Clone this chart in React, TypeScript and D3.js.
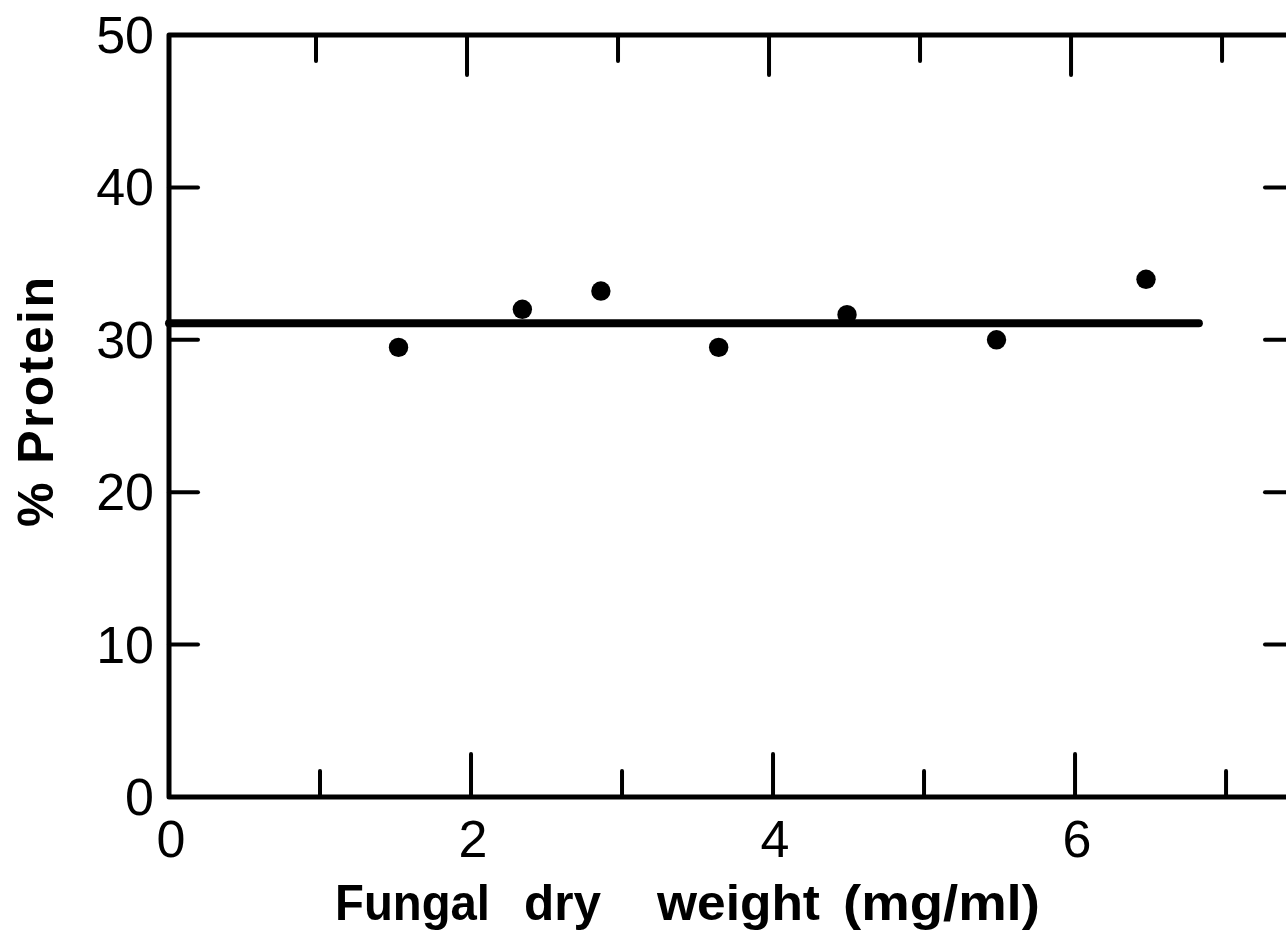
import React, { useLayoutEffect, useRef, useState } from "react";
import * as d3 from "d3";

const dryWeight = [1.52, 2.34, 2.86, 3.64, 4.49, 5.48, 6.47];
const proteinPct = [29.5, 32.0, 33.2, 29.5, 31.65, 30.0, 33.97];
const fitLine = [
  { x: 0, y: 31.08 },
  { x: 6.82, y: 31.08 },
];
const xMajorTicks = [2, 4, 6];
const xMinorTicks = [1, 3, 5, 7];
const xTickLabels = [0, 2, 4, 6];
const yTicks = [10, 20, 30, 40];
const yTickLabels = [0, 10, 20, 30, 40, 50];
const xTitleWords = ["Fungal", "dry", "weight", "(mg/ml)"];
const xTitleSpans = [
  [335, 490],
  [524, 601],
  [657, 820],
  [843, 1040],
];

const W = 1286;
const H = 935;
const FONT = "'Liberation Sans', Arial, sans-serif";

export default function App() {
  const x = d3.scaleLinear().domain([0, 7.45]).range([169, 1294]);
  const y = d3.scaleLinear().domain([0, 50]).range([797, 35]);
  const line = d3
    .line<{ x: number; y: number }>()
    .x((d) => x(d.x))
    .y((d) => y(d.y));

  const titleRefs = useRef<(SVGTextElement | null)[]>([]);
  const [scales, setScales] = useState<number[]>(xTitleWords.map(() => 1));
  useLayoutEffect(() => {
    setScales(
      titleRefs.current.map((el, i) => {
        if (!el) return 1;
        const w = el.getComputedTextLength();
        return w > 0 ? (xTitleSpans[i][1] - xTitleSpans[i][0]) / w : 1;
      })
    );
  }, []);

  const x0 = x(0);
  const x1 = x(7.45);
  const y0 = y(0);
  const y1 = y(50);

  return (
    <svg
      width={W}
      height={H}
      viewBox={`0 0 ${W} ${H}`}
      style={{ position: "absolute", left: 0, top: 0, background: "#fff" }}
    >
      <rect x={0} y={0} width={W} height={H} fill="#fff" />
      {/* frame */}
      <path
        d={`M${x0},${y0} L${x0},${y1} L${x1},${y1} L${x1},${y0} Z`}
        fill="none"
        stroke="#000"
        strokeWidth={5}
        strokeLinejoin="round"
      />
      {/* bottom ticks */}
      {xMajorTicks.map((t) => (
        <line key={"bM" + t} x1={x(t)} x2={x(t)} y1={y0} y2={y0 - 43} stroke="#000" strokeWidth={4} strokeLinecap="round" />
      ))}
      {xMinorTicks.map((t) => (
        <line key={"bm" + t} x1={x(t)} x2={x(t)} y1={y0} y2={y0 - 26} stroke="#000" strokeWidth={4} strokeLinecap="round" />
      ))}
      {/* top ticks */}
      {xMajorTicks.map((t) => (
        <line key={"tM" + t} x1={x(t) - 4} x2={x(t) - 4} y1={y1} y2={y1 + 40} stroke="#000" strokeWidth={4} strokeLinecap="round" />
      ))}
      {xMinorTicks.map((t) => (
        <line key={"tm" + t} x1={x(t) - 4} x2={x(t) - 4} y1={y1} y2={y1 + 26} stroke="#000" strokeWidth={4} strokeLinecap="round" />
      ))}
      {/* left and right ticks */}
      {yTicks.map((t) => (
        <g key={"y" + t}>
          <line x1={x0} x2={x0 + 29} y1={y(t)} y2={y(t)} stroke="#000" strokeWidth={4} strokeLinecap="round" />
          <line x1={x1} x2={x1 - 29} y1={y(t)} y2={y(t)} stroke="#000" strokeWidth={4} strokeLinecap="round" />
        </g>
      ))}
      {/* y tick labels */}
      {yTickLabels.map((t) => (
        <text
          key={"yl" + t}
          x={154}
          y={y(t)}
          textAnchor="end"
          dominantBaseline="central"
          fontFamily={FONT}
          fontSize={52}
          fill="#000"
        >
          {t}
        </text>
      ))}
      {/* x tick labels */}
      {xTickLabels.map((t) => (
        <text
          key={"xl" + t}
          x={x(t) + 2}
          y={857}
          textAnchor="middle"
          fontFamily={FONT}
          fontSize={52}
          fill="#000"
        >
          {t}
        </text>
      ))}
      {/* fit line */}
      <path d={line(fitLine) || ""} fill="none" stroke="#000" strokeWidth={8} strokeLinecap="round" />
      {/* points */}
      {dryWeight.map((d, i) => (
        <circle key={"p" + i} cx={x(d)} cy={y(proteinPct[i])} r={9.7} fill="#000" />
      ))}
      {/* axis titles */}
      {xTitleWords.map((w, i) => (
        <text
          key={w}
          ref={(el) => {
            titleRefs.current[i] = el;
          }}
          transform={`translate(${xTitleSpans[i][0]},920) scale(${scales[i]},1)`}
          x={0}
          y={0}
          fontFamily={FONT}
          fontSize={50}
          fontWeight={700}
          fill="#000"
        >
          {w}
        </text>
      ))}
      <text
        transform={`translate(53,402) rotate(-90)`}
        textAnchor="middle"
        fontFamily={FONT}
        fontSize={50}
        fontWeight={700}
        textLength={250}
        lengthAdjust="spacing"
        fill="#000"
      >
        % Protein
      </text>
    </svg>
  );
}
